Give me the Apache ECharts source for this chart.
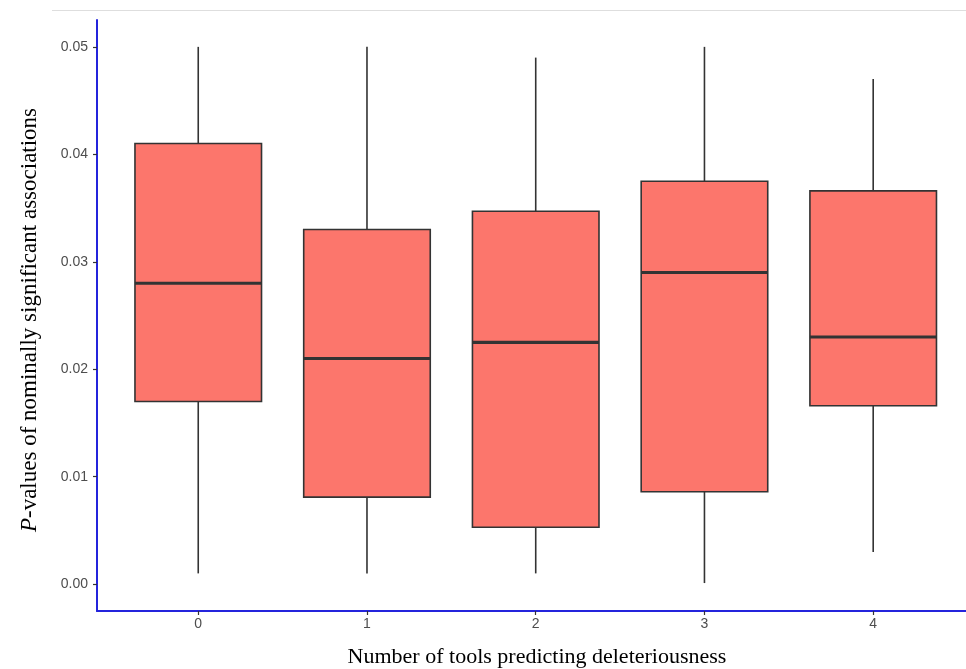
<!DOCTYPE html>
<html>
<head>
<meta charset="utf-8">
<script src="https://cdn.jsdelivr.net/npm/echarts@6/dist/echarts.min.js"></script>
<style>html,body{margin:0;padding:0;background:#fff}#c{width:966px;height:669px}</style>
</head>
<body>
<div id="c"></div>
<script>
const categories = [0, 1, 2, 3, 4];
const whiskerLow = [0.001, 0.001, 0.001, 0.0001, 0.003];
const q1 = [0.017, 0.0081, 0.0053, 0.0086, 0.0166];
const median = [0.028, 0.021, 0.0225, 0.029, 0.023];
const q3 = [0.041, 0.033, 0.0347, 0.0375, 0.0366];
const whiskerHigh = [0.05, 0.05, 0.049, 0.05, 0.047];
const yTicks = [0, 0.01, 0.02, 0.03, 0.04, 0.05];

const data = categories.map((c, i) => [c, whiskerLow[i], q1[i], median[i], q3[i], whiskerHigh[i]]);

const chart = echarts.init(document.getElementById('c'), null, {renderer: 'canvas'});
const axisBlue = '#2424dc';
const labelFont = 'Liberation Sans, Arial, sans-serif';
chart.setOption({
  animation: false,
  grid: {left: 97, right: 0, top: 20, bottom: 58},
  xAxis: {
    type: 'value', min: -0.6, max: 4.55,
    axisLine: {show: true, onZero: false, lineStyle: {color: axisBlue, width: 2}},
    axisTick: {show: true, length: 4, lineStyle: {color: '#333', width: 1.2}, customValues: categories},
    axisLabel: {color: '#4d4d4d', fontSize: 14, fontFamily: labelFont, margin: 6, customValues: categories, formatter: v => String(v)},
    splitLine: {show: false}
  },
  yAxis: {
    type: 'value', min: -0.0025, max: 0.0525,
    axisLine: {show: true, onZero: false, lineStyle: {color: axisBlue, width: 2}},
    axisTick: {show: true, length: 4, lineStyle: {color: '#333', width: 1.2}, customValues: yTicks},
    axisLabel: {color: '#4d4d4d', fontSize: 14, fontFamily: labelFont, margin: 9, customValues: yTicks, formatter: v => v.toFixed(2)},
    splitLine: {show: false}
  },
  series: [{
    type: 'custom',
    data: data,
    encode: {x: 0, y: [1, 2, 3, 4, 5]},
    renderItem: function (params, api) {
      const x = api.value(0);
      const lo = api.coord([x, api.value(1)]);
      const b1 = api.coord([x, api.value(2)]);
      const md = api.coord([x, api.value(3)]);
      const b3 = api.coord([x, api.value(4)]);
      const hi = api.coord([x, api.value(5)]);
      const w = api.size([0.75, 0])[0];
      const stroke = '#333333';
      return {
        type: 'group',
        children: [
          {type: 'line', shape: {x1: hi[0], y1: hi[1], x2: b3[0], y2: b3[1]}, style: {stroke: stroke, lineWidth: 1.6}},
          {type: 'line', shape: {x1: b1[0], y1: b1[1], x2: lo[0], y2: lo[1]}, style: {stroke: stroke, lineWidth: 1.6}},
          {type: 'rect', shape: {x: b3[0] - w / 2, y: b3[1], width: w, height: b1[1] - b3[1]}, style: {fill: '#fc766c', stroke: stroke, lineWidth: 1.6}},
          {type: 'line', shape: {x1: md[0] - w / 2, y1: md[1], x2: md[0] + w / 2, y2: md[1]}, style: {stroke: stroke, lineWidth: 3.2}}
        ]
      };
    }
  }],
  graphic: [
    {type: 'line', shape: {x1: 52, y1: 10.5, x2: 966, y2: 10.5}, style: {stroke: '#dedede', lineWidth: 1}},
    {type: 'text', x: 30, y: 320, rotation: Math.PI / 2,
      style: {
        text: '{i|P}-values of nominally significant associations',
        align: 'center', verticalAlign: 'middle',
        fill: '#000', font: '23px "Liberation Serif", "Times New Roman", serif',
        rich: {i: {fontStyle: 'italic', fontSize: 23, fontFamily: 'Liberation Serif', fill: '#000'}}
      }},
    {type: 'text', x: 537, y: 657,
      style: {text: 'Number of tools predicting deleteriousness', align: 'center', verticalAlign: 'middle', fill: '#000', font: '22px "Liberation Serif", "Times New Roman", serif'}}
  ]
});
</script>
</body>
</html>
